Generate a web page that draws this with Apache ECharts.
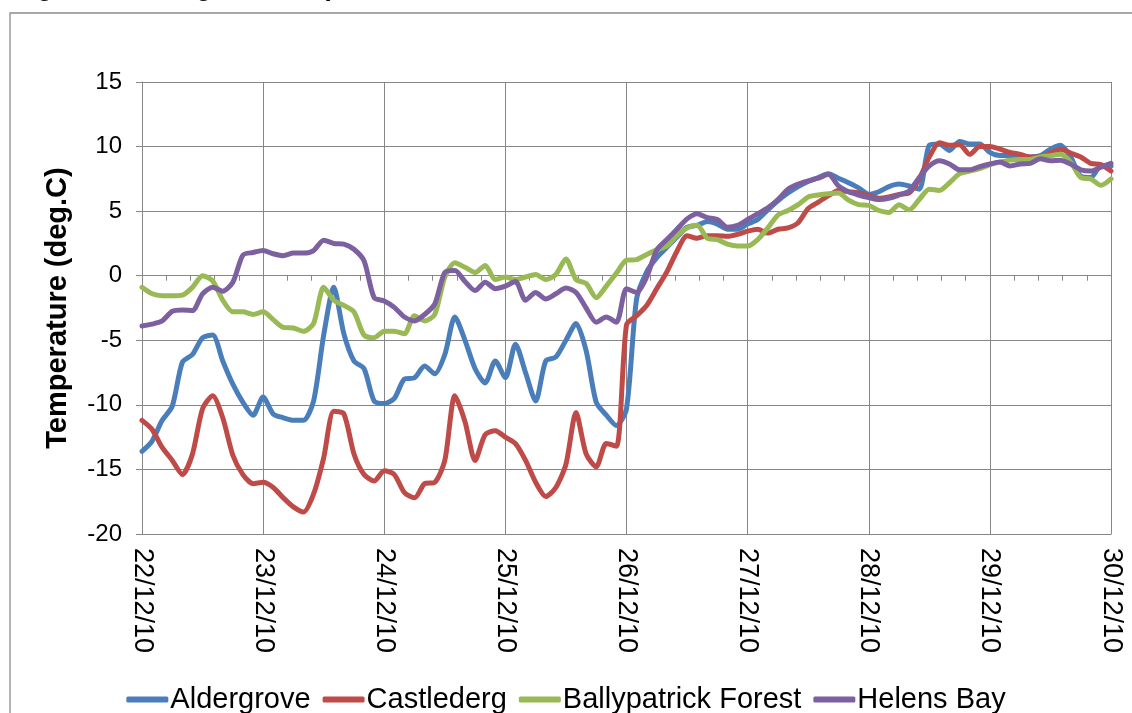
<!DOCTYPE html>
<html>
<head>
<meta charset="utf-8">
<script src="https://cdn.jsdelivr.net/npm/echarts@6/dist/echarts.min.js"></script>
<style>
html,body{margin:0;padding:0;background:#fff;}
#chart{width:1132px;height:713px;}
</style>
</head>
<body>
<div id="chart"></div>
<script>
// Dates of the major ticks (one per day)
var dateLabels = ['22/12/10','23/12/10','24/12/10','25/12/10','26/12/10','27/12/10','28/12/10','29/12/10','30/12/10'];
var seriesNames = ['Aldergrove','Castlederg','Ballypatrick Forest','Helens Bay'];
// readings every 2 hours from 22/12/10 00:00 to 30/12/10 00:00 (deg.C)
var aldergrove = [
 -13.6,-12.8,-11.2,-10.1,-6.7,-6.1,-4.8,-4.6,-6.6,-8.4,-9.8,-10.8,
 -9.4,-10.7,-11.0,-11.2,-11.2,-9.7,-4.6,-0.9,-4.5,-6.6,-7.2,-9.7,
 -9.9,-9.5,-8.0,-7.9,-7.0,-7.6,-6.1,-3.2,-5.0,-7.2,-8.3,-6.6,
 -7.9,-5.3,-7.5,-9.7,-6.6,-6.3,-5.0,-3.7,-5.8,-9.8,-10.8,-11.6,
 -10.3,-1.8,0.3,1.4,2.2,3.0,3.75,3.9,4.2,4.0,3.6,3.6,
 4.0,4.35,5.1,5.8,6.4,6.9,7.3,7.6,7.9,7.55,7.2,6.8,
 6.3,6.5,6.9,7.1,6.95,6.7,10.1,10.2,9.7,10.4,10.2,10.2,
 9.55,9.3,9.3,9.2,9.2,9.3,9.8,10.1,9.2,7.7,7.6,8.5,
 8.5];
var castlederg = [
 -11.2,-11.9,-13.3,-14.3,-15.4,-13.8,-10.3,-9.3,-11.0,-13.9,-15.4,-16.1,
 -16.0,-16.4,-17.2,-17.9,-18.3,-16.9,-14.1,-10.5,-10.7,-13.8,-15.4,-15.9,
 -15.1,-15.4,-16.8,-17.2,-16.1,-16.0,-14.3,-9.3,-11.3,-14.3,-12.3,-12.0,
 -12.5,-13.0,-14.3,-16.0,-17.1,-16.4,-14.6,-10.6,-13.8,-14.8,-13.0,-13.2,
 -3.8,-3.1,-2.3,-1.0,0.3,1.9,3.1,2.9,3.1,3.1,3.05,3.2,
 3.45,3.6,3.3,3.6,3.7,4.1,5.2,5.7,6.2,6.6,6.5,6.4,
 6.2,6.0,6.1,6.3,6.4,7.5,9.2,10.3,10.1,10.15,9.4,10.0,
 10.0,9.8,9.55,9.4,9.2,9.2,9.5,9.8,9.5,9.2,8.7,8.6,
 8.1];
var ballypatrick = [
 -0.9,-1.4,-1.55,-1.55,-1.5,-0.9,0.0,-0.4,-1.9,-2.8,-2.8,-3.0,
 -2.8,-3.4,-4.0,-4.05,-4.3,-3.7,-0.9,-1.9,-2.3,-2.8,-4.6,-4.8,
 -4.3,-4.3,-4.5,-3.1,-3.5,-3.0,-0.1,1.0,0.65,0.25,0.8,-0.3,
 -0.1,-0.3,-0.1,0.1,-0.3,0.1,1.3,-0.3,-0.6,-1.7,-0.8,0.2,
 1.2,1.25,1.65,2.0,2.3,3.1,3.7,3.9,2.9,2.8,2.45,2.3,
 2.3,2.8,3.7,4.7,5.05,5.5,6.1,6.25,6.35,6.4,5.85,5.5,
 5.45,5.05,4.9,5.5,5.1,5.9,6.7,6.6,7.2,7.9,8.1,8.3,
 8.6,8.8,8.95,9.0,9.0,9.2,9.3,9.4,8.8,7.6,7.5,7.0,
 7.5];
var helensBay = [
 -3.9,-3.75,-3.5,-2.75,-2.65,-2.7,-1.4,-0.9,-1.2,-0.5,1.6,1.8,
 1.95,1.7,1.55,1.75,1.75,1.95,2.75,2.5,2.45,2.05,1.15,-1.7,
 -1.95,-2.45,-3.2,-3.5,-3.0,-2.2,0.25,0.4,-0.45,-1.15,-0.5,-1.0,
 -0.8,-0.45,-1.9,-1.3,-1.8,-1.4,-0.95,-1.3,-2.5,-3.6,-3.2,-3.6,
 -1.0,-1.3,-0.1,2.0,2.8,3.6,4.4,4.8,4.5,4.35,3.75,3.9,
 4.35,4.8,5.25,5.9,6.7,7.1,7.35,7.55,7.85,6.95,6.5,6.25,
 6.05,5.9,6.0,6.25,6.55,7.6,8.5,8.9,8.65,8.2,8.2,8.45,
 8.65,8.8,8.5,8.65,8.7,9.05,8.9,8.95,8.65,8.2,8.1,8.4,
 8.7];
var yTicks = [-20,-15,-10,-5,0,5,10,15];
var colors = ['#4A7EBB','#BE4B48','#98B954','#7D60A0'];

function pairs(arr){
  var out = [];
  for (var i = 0; i < arr.length; i++) out.push([i / 12, arr[i]]);
  return out;
}
var allData = [aldergrove, castlederg, ballypatrick, helensBay];
var FONT = 'Liberation Sans, Arial, sans-serif';
var gridColor = '#868686';

var chart = echarts.init(document.getElementById('chart'), null, {renderer:'canvas'});
var series = allData.map(function(d, i){
  return {
    name: seriesNames[i], type: 'line', xAxisIndex: 0, data: pairs(d),
    showSymbol: false, symbol: 'none', smooth: 0.25, animation: false,
    lineStyle: {width: 5, color: colors[i], cap: 'round', join: 'round'},
    itemStyle: {color: colors[i]}
  };
});
chart.setOption({
  animation: false,
  backgroundColor: '#fff',
  color: colors,
  graphic: [
    {type:'rect', shape:{x:10, y:13, width:1140, height:720}, style:{fill:'none', stroke:'#8c8c8c', lineWidth:1.3}, silent:true},
    {type:'text', x: 14, y: 2, style:{text:'Figure 4: Changes in temperature at four stations in Northern Ireland', font:'bold 26px Liberation Sans, Arial, sans-serif', fill:'#000', verticalAlign:'bottom'}, silent:true}
  ],
  grid: {left:142, right:21, top:82, bottom:179, containLabel:false},
  xAxis: [{
    type:'value', min:0, max:8, interval:1, position:'bottom',
    axisLine:{show:true, onZero:false, lineStyle:{color:gridColor, width:1}},
    axisTick:{show:false},
    splitLine:{show:true, lineStyle:{color:gridColor, width:1}},
    axisLabel:{show:true, rotate:-90, margin:14, color:'#000', fontFamily:FONT, fontSize:27,
      formatter:function(v){ return dateLabels[Math.round(v)]; }}
  },{
    type:'value', min:0, max:8, interval:1, position:'bottom',
    axisLine:{show:true, onZero:true, lineStyle:{color:gridColor, width:1}},
    axisTick:{show:true, length:5, inside:false, lineStyle:{color:gridColor}},
    minorTick:{show:true, splitNumber:5, length:5, lineStyle:{color:gridColor}},
    splitLine:{show:false},
    axisLabel:{show:false}
  }],
  yAxis: {
    type:'value', min:yTicks[0], max:yTicks[yTicks.length-1], interval:5,
    name:'Temperature (deg.C)', nameLocation:'middle', nameGap:70,
    nameTextStyle:{color:'#000', fontFamily:FONT, fontSize:29, fontWeight:'bold'},
    axisLine:{show:true, lineStyle:{color:gridColor, width:1}},
    axisTick:{show:true, length:6, lineStyle:{color:gridColor}},
    splitLine:{show:true, lineStyle:{color:gridColor, width:1}},
    axisLabel:{color:'#000', fontFamily:FONT, fontSize:24, margin:20}
  },
  legend: {
    data: seriesNames, left:'center', top:680, icon:'roundRect', itemWidth:42, itemHeight:6,
    itemGap:12, textStyle:{color:'#000', fontFamily:FONT, fontSize:29, padding:[0,0,0,-3]}
  },
  series: series
});
</script>
</body>
</html>
